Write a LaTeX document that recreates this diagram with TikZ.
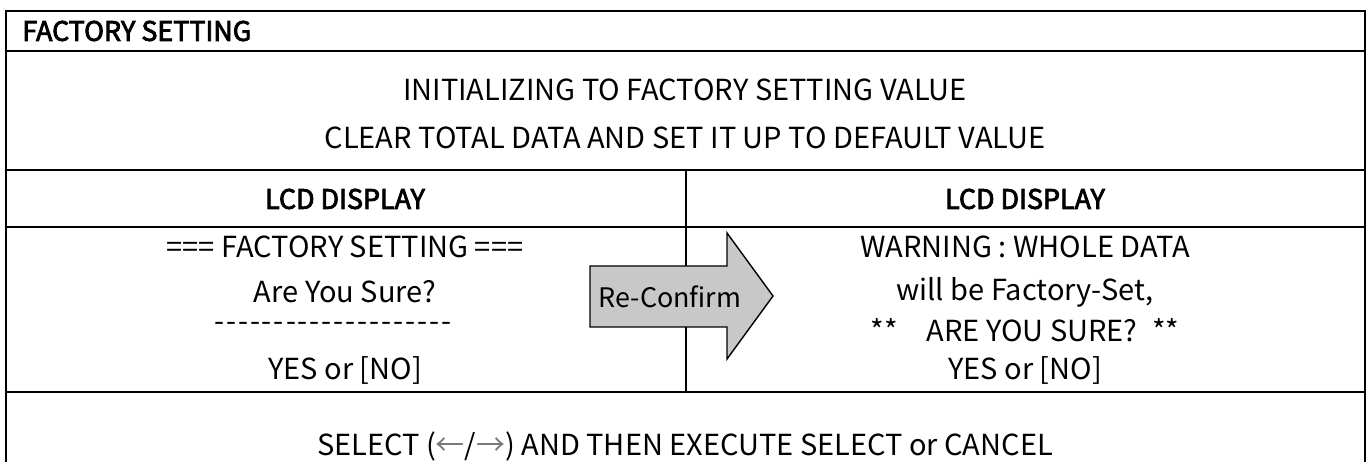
\documentclass[tikz,border=0pt]{standalone}
\usepackage{fontspec}
\setmainfont{Noto Sans CJK KR}
\newfontfamily\titlefont[FakeBold=3]{Noto Sans CJK KR}
\usetikzlibrary{calc}
\definecolor{arrowgray}{RGB}{200,200,200}
\definecolor{tipgray}{RGB}{120,120,120}
\newcommand{\dsh}{-\kern1.1pt}
\newcommand{\dashrow}{\dsh\dsh\dsh\dsh\dsh\dsh\dsh\dsh\dsh\dsh\dsh\dsh\dsh\dsh\dsh\dsh\dsh\dsh\dsh-}

\begin{document}
\begin{tikzpicture}[x=0.02cm, y=-0.02cm, every node/.style={inner sep=0pt}]
\tikzstyle{rule} = [line width=1.2pt, draw=black]
\tikzstyle{txt} = [font=\fontsize{16.5}{19}\selectfont]
\tikzstyle{head} = [font=\fontsize{15.3}{18}\selectfont\titlefont]

\useasboundingbox (0,0) rectangle (1369,462);

% table rules
\draw[rule] (6,462) -- (6,11) -- (1365,11) -- (1365,462);
\draw[rule] (6,51) -- (1365,51);
\draw[rule] (6,170) -- (1365,170);
\draw[rule] (6,227) -- (1365,227);
\draw[rule] (6,392) -- (1365,392);
\draw[rule] (686,170) -- (686,392);

\node (title) [head, anchor=west] at (22,31) {FACTORY SETTING};
\node (init) [txt] at (685,90) {INITIALIZING TO FACTORY SETTING VALUE};
\node (clear) [txt] at (685,138) {CLEAR TOTAL DATA AND SET IT UP TO DEFAULT VALUE};

\node (lcdl) [head] at (345,199) {LCD DISPLAY};
\node (lcdr) [head] at (1025,199) {LCD DISPLAY};

% left display
\node (l1) [txt] at (345,247) {=== FACTORY SETTING ===};
\node (l2) [txt] at (345,292) {Are You Sure?};
\node (l3) [txt] at (333,327) {\dashrow};
\node (l4) [txt] at (345,370) {YES or [NO]};

% right display
\node (r1) [txt] at (1025,247) {WARNING : WHOLE DATA};
\node (r2) [txt] at (1025,292) {will be Factory-Set,};
\node (r3) [txt] at (1025,330) {**\quad ARE YOU SURE?\enspace **};
\node (r4) [txt] at (1025,370) {YES or [NO]};

% block arrow
\draw[line width=.8pt, fill=arrowgray] (590,266) -- (727,266) -- (727,233) -- (773,296)
  -- (727,359) -- (727,327) -- (590,327) -- cycle;
\node (conf) [txt, font=\fontsize{15.3}{18}\selectfont] at (670,297) {Re-Confirm};

\node (sel) [txt] at (685,446) {SELECT (\textcolor{tipgray}{←}/\textcolor{tipgray}{→}) AND THEN EXECUTE SELECT or CANCEL};

\end{tikzpicture}
\end{document}
